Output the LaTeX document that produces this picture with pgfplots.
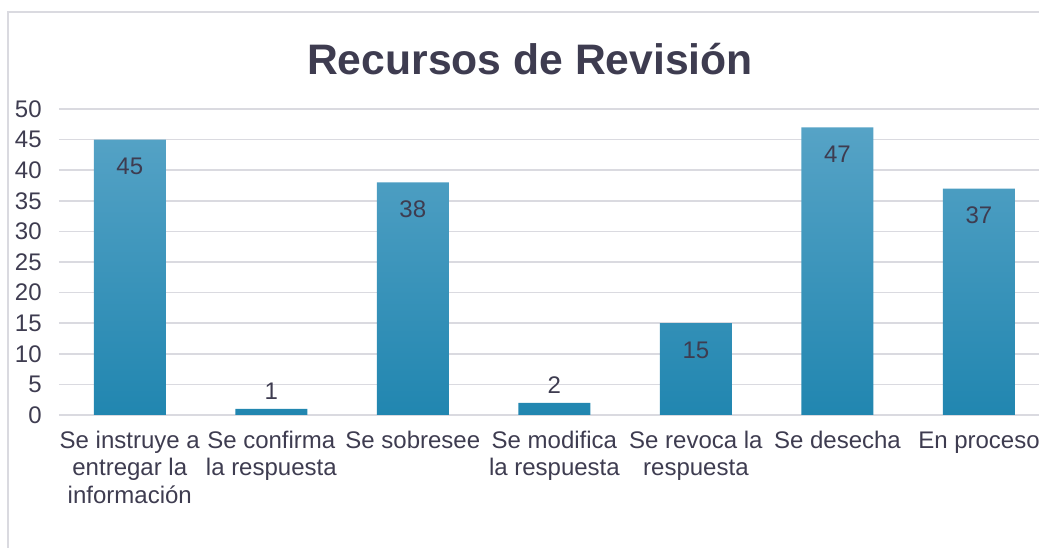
\documentclass[border=0pt]{standalone}
\usepackage{pgfplots}
\pgfplotsset{compat=1.18}
\usepackage{fontspec}
\setmainfont{Liberation Sans}
\definecolor{txt}{RGB}{62,60,80}
\definecolor{gridc}{RGB}{218,218,224}
\definecolor{bartop}{RGB}{86,163,198}
\definecolor{barmid}{RGB}{44,152,195}
\definecolor{barbot}{RGB}{33,134,176}
\newcommand{\st}{\rule{0pt}{14pt}}
\begin{document}
\begin{tikzpicture}
\useasboundingbox (-44.25pt,-99.75pt) rectangle (735pt,311.25pt);
\begin{scope}
\clip (-44.25pt,-99.75pt) rectangle (735pt,311.25pt);
\begin{axis}[
  at={(0pt,0pt)}, anchor=south west,
  scale only axis, width=735pt, height=229.5pt,
  xmin=-0.5, xmax=6.424, ymin=0, ymax=50,
  ytick={0,5,...,50},
  xtick={0,1,2,3,4,5,6},
  xticklabels={{\st Se instruye a\\entregar la\\información},{\st Se confirma\\la respuesta},{\st Se sobresee},{\st Se modifica\\la respuesta},{\st Se revoca la\\respuesta},{\st Se desecha},{\st En proceso}},
  axis line style={draw=none},
  major tick length=0pt,
  ymajorgrids, grid style={draw=gridc, line width=1.1pt},
  /pgf/number format/assume math mode=true,
  yticklabel style={font=\fontsize{18}{21}\selectfont, text=txt, anchor=east, xshift=-9.5pt},
  xticklabel style={font=\fontsize{18}{20.6}\selectfont, text=txt, align=center, anchor=north, yshift=-7.5pt},
  ybar, bar width=54pt, bar shift=0pt,
  nodes near coords,
  visualization depends on={y \as \rawy},
  every node near coord/.append style={font=\fontsize{18}{21}\selectfont, text=txt, anchor=center,
     yshift={ifthenelse(\rawy>5,-20.25,13)}},
]
\addplot[draw=none, top color=bartop, middle color=barmid, bottom color=barbot]
  coordinates {(0,45) (1,1) (2,38) (3,2) (4,15) (5,47) (6,37)};
\end{axis}
\draw[gridc, line width=1.1pt] (-38.25pt,-120pt) -- (-38.25pt,302.25pt) -- (760pt,302.25pt);
\node[anchor=base, font=\fontsize{32}{38}\selectfont\bfseries, text=txt] at (353.25pt,255pt) {Recursos de Revisión};
\end{scope}
\end{tikzpicture}
\end{document}
